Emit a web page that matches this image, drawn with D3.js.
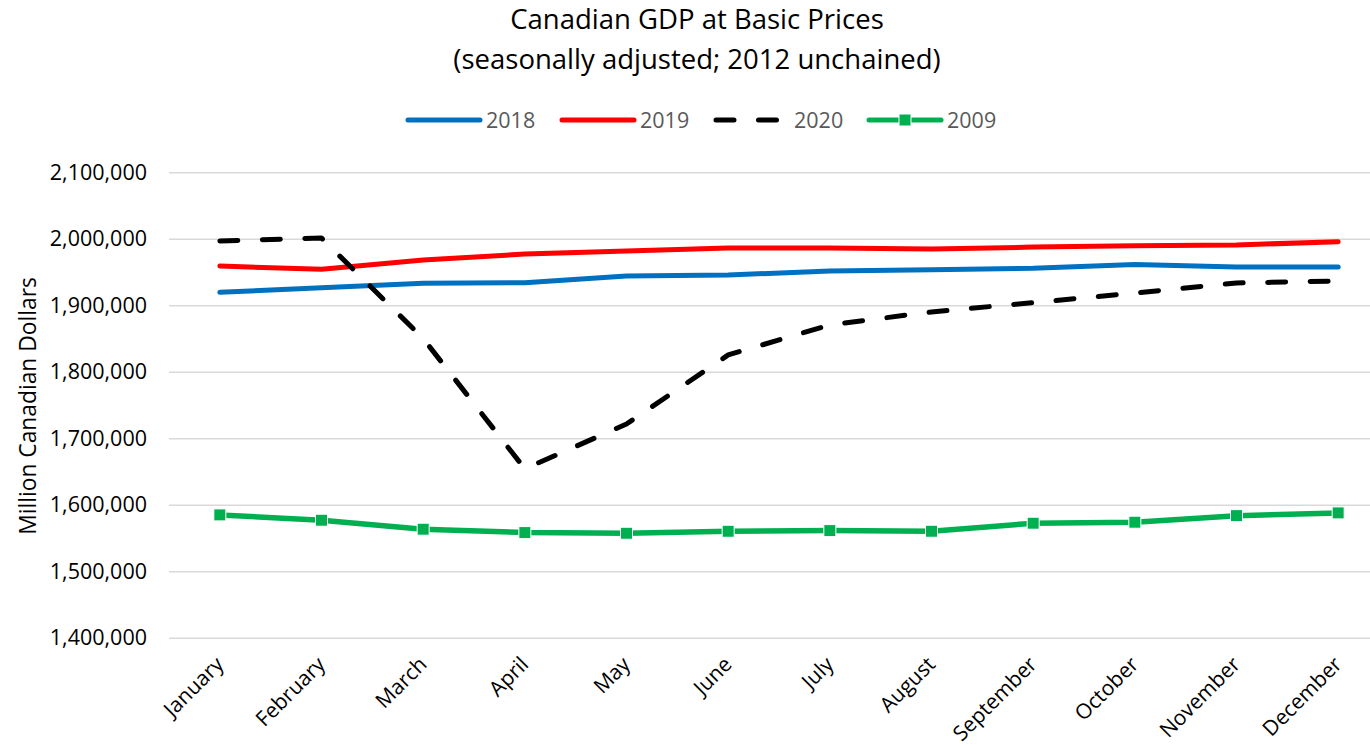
<!DOCTYPE html>
<html>
<head>
<meta charset="utf-8">
<script src="https://cdn.jsdelivr.net/npm/d3@7"></script>
<style>
  body { margin: 0; background: #fff; }
  svg { display: block; font-family: "Open Sans", sans-serif; }
</style>
</head>
<body>
<svg id="chart"></svg>
<script>
// data (million CAD)
const months = ["January", "February", "March", "April", "May", "June", "July",
  "August", "September", "October", "November", "December"];
const gdp2018 = [1919500, 1926500, 1933000, 1934000, 1944000, 1945500, 1951500,
  1953500, 1955500, 1961500, 1957600, 1957600];
const gdp2019 = [1959000, 1954100, 1968000, 1977000, 1981500, 1986000, 1986000,
  1984500, 1987500, 1989600, 1990700, 1995700];
const gdp2020 = [1996700, 2001200, 1850000, 1654000, 1721400, 1825300, 1870400,
  1890000, 1904000, 1918500, 1933500, 1936500];
const gdp2009 = [1584700, 1576700, 1563200, 1558100, 1557100, 1560100, 1561100,
  1560100, 1572200, 1573700, 1583600, 1587700];
const yTicks = [1400000, 1500000, 1600000, 1700000, 1800000, 1900000, 2000000, 2100000];

const series = [
  { name: "2018", values: gdp2018, color: "#0070C0", dash: null, marker: false },
  { name: "2019", values: gdp2019, color: "#FF0000", dash: null, marker: false },
  { name: "2020", values: gdp2020, color: "#000000", dash: "18,24.5", marker: false },
  { name: "2009", values: gdp2009, color: "#00B050", dash: null, marker: true }
];

const W = 1370, H = 745;
const margin = { top: 172.3, right: -19, bottom: 107.3, left: 169 };
const width = W - margin.left - margin.right;
const height = H - margin.top - margin.bottom;

const svg = d3.select("#chart").attr("width", W).attr("height", H);

// titles
svg.append("text")
  .attr("x", 697).attr("y", 29)
  .attr("text-anchor", "middle")
  .attr("font-size", 27.5).attr("fill", "#000")
  .text("Canadian GDP at Basic Prices");
svg.append("text")
  .attr("x", 697).attr("y", 69)
  .attr("text-anchor", "middle")
  .attr("font-size", 27.5).attr("fill", "#000")
  .text("(seasonally adjusted; 2012 unchained)");

const g = svg.append("g")
  .attr("transform", `translate(${margin.left},${margin.top})`);

const x = d3.scaleBand().domain(months).range([0, width]);
const y = d3.scaleLinear().domain([1400000, 2100000]).range([height, 0]);
const cx = m => x(m) + x.bandwidth() / 2;

// gridlines + y labels
const yAxis = g.append("g")
  .call(d3.axisLeft(y).tickValues(yTicks).tickFormat(d3.format(",")).tickSize(-width).tickPadding(22));
yAxis.select(".domain").remove();
yAxis.selectAll("line").attr("stroke", "#d9d9d9").attr("stroke-width", 1.4);
yAxis.selectAll("text").attr("font-size", 21.5).attr("fill", "#000")
  .attr("font-family", "Open Sans, sans-serif");

// x labels
const xAxis = g.append("g")
  .attr("transform", `translate(0,${height})`)
  .call(d3.axisBottom(x).tickSize(0));
xAxis.select(".domain").remove();
xAxis.selectAll("text")
  .attr("font-size", 21).attr("fill", "#000")
  .attr("font-family", "Open Sans, sans-serif")
  .attr("text-anchor", "end")
  .attr("dy", null).attr("y", 0)
  .attr("transform", "translate(5,28) rotate(-45)");

// y title
svg.append("text")
  .attr("transform", "translate(36,406) rotate(-90)")
  .attr("text-anchor", "middle")
  .attr("font-size", 22.8).attr("fill", "#000")
  .text("Million Canadian Dollars");

const line = d3.line()
  .x((d, i) => cx(months[i]))
  .y(d => y(d));

series.forEach(s => {
  g.append("path")
    .datum(s.values)
    .attr("fill", "none")
    .attr("stroke", s.color)
    .attr("stroke-width", s.marker ? 5.5 : 5)
    .attr("stroke-linecap", "round")
    .attr("stroke-linejoin", "round")
    .attr("stroke-dasharray", s.dash)
    .attr("d", line);
  if (s.marker) {
    g.selectAll(".m" + s.name)
      .data(s.values)
      .enter().append("rect")
      .attr("x", (d, i) => cx(months[i]) - 6)
      .attr("y", d => y(d) - 6)
      .attr("width", 12).attr("height", 12)
      .attr("fill", s.color)
      .attr("stroke", "#fff").attr("stroke-width", 1);
  }
});

// legend
const legendX = [408, 562, 716, 869];
const legend = svg.append("g");
series.forEach((s, i) => {
  const lg = legend.append("g").attr("transform", `translate(${legendX[i]},120)`);
  lg.append("line")
    .attr("x1", 0).attr("x2", 72).attr("y1", 0).attr("y2", 0)
    .attr("stroke", s.color).attr("stroke-width", 5)
    .attr("stroke-linecap", "round")
    .attr("stroke-dasharray", s.dash ? "18,24.5" : null);
  if (s.marker) {
    lg.append("rect").attr("x", 30).attr("y", -6).attr("width", 12).attr("height", 12)
      .attr("fill", s.color).attr("stroke", "#fff");
  }
  lg.append("text")
    .attr("x", 78).attr("y", 8)
    .attr("font-size", 21.5).attr("fill", "#595959")
    .text(s.name);
});
</script>
</body>
</html>
